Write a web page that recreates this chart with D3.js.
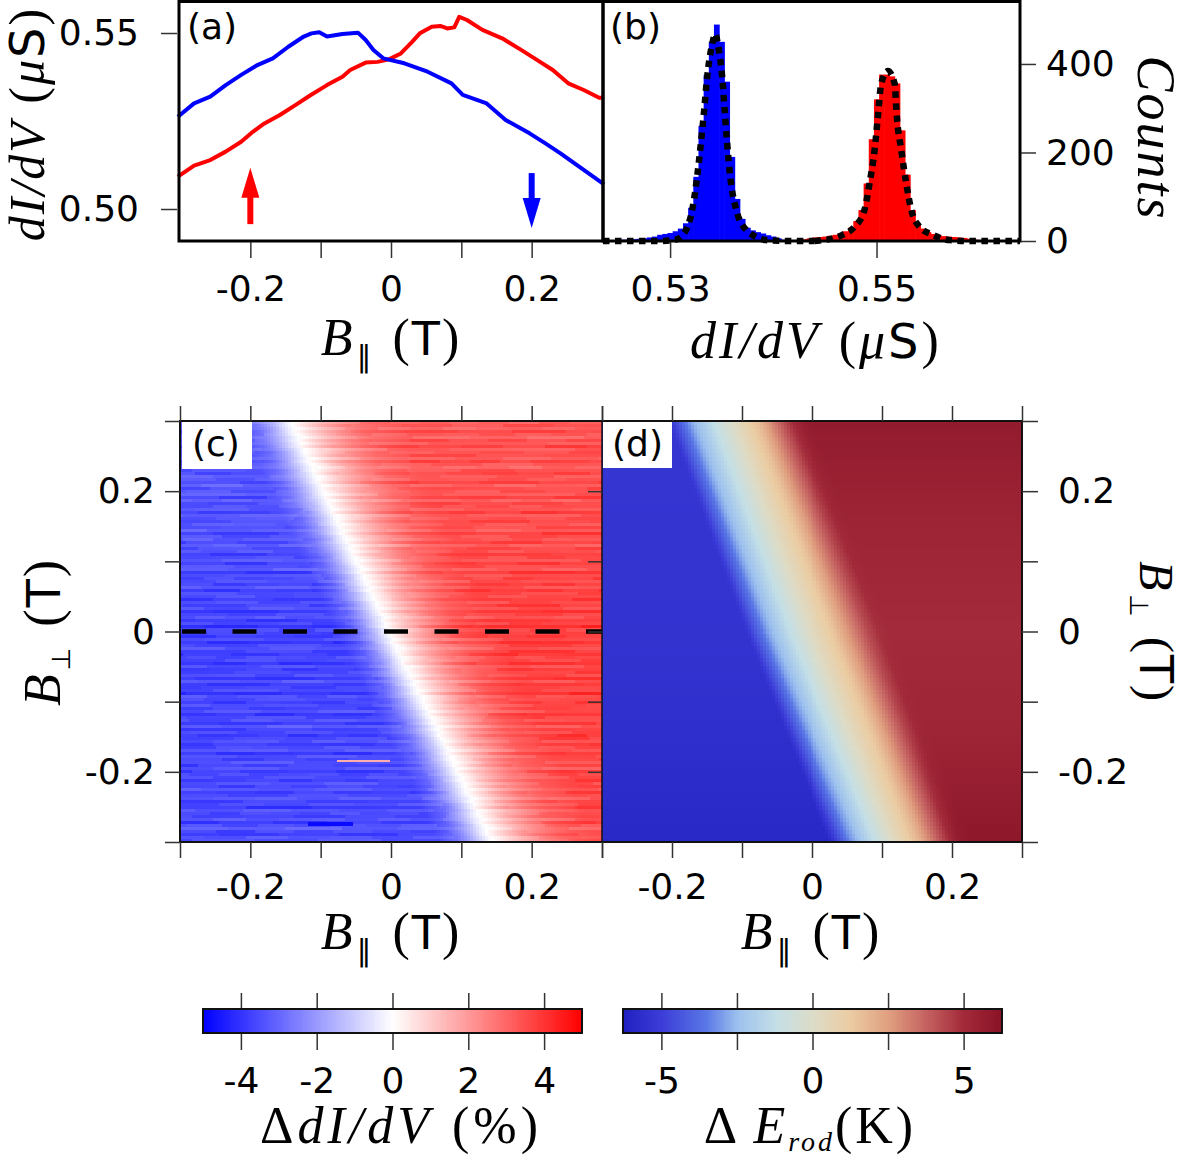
<!DOCTYPE html>
<html><head><meta charset="utf-8">
<script src="https://cdn.jsdelivr.net/npm/d3@7"></script>
<style>body{margin:0;background:#fff}svg{display:block}</style>
</head><body>
<svg id="fig" width="1186" height="1156"></svg>
<script>
// ---------------- DATA ----------------
// panel (a): dI/dV vs B_parallel, two sweep directions
const aRedB  = [-0.303,-0.280,-0.257,-0.235,-0.213,-0.196,-0.180,-0.158,-0.136,-0.114,-0.091,-0.069,-0.058,-0.036,-0.019,-0.003,0.014,0.030,0.041,0.058,0.070,0.080,0.090,0.097,0.108,0.130,0.158,0.185,0.208,0.230,0.252,0.274,0.296,0.303];
const aRedG  = [0.5092,0.5123,0.5139,0.5163,0.5191,0.5220,0.5243,0.5267,0.5295,0.5324,0.5352,0.5376,0.5395,0.5416,0.5418,0.5425,0.5442,0.5475,0.5499,0.5518,0.5520,0.5513,0.5516,0.5546,0.5537,0.5509,0.5485,0.5452,0.5423,0.5395,0.5357,0.5338,0.5316,0.5316];
const aBlueB = [-0.303,-0.280,-0.257,-0.235,-0.213,-0.190,-0.168,-0.146,-0.124,-0.113,-0.102,-0.091,-0.069,-0.047,-0.036,-0.025,-0.011,0.019,0.052,0.086,0.102,0.136,0.163,0.197,0.219,0.241,0.274,0.303];
const aBlueG = [0.5262,0.5300,0.5319,0.5352,0.5381,0.5409,0.5428,0.5461,0.5490,0.5499,0.5502,0.5490,0.5497,0.5501,0.5480,0.5452,0.5428,0.5414,0.5390,0.5357,0.5324,0.5300,0.5253,0.5215,0.5187,0.5158,0.5111,0.5070];
const aXTicks = [-0.2,-0.1,0,0.1,0.2], aXLabels = ['-0.2','','0','','0.2'];
const aYTicks = [0.50,0.55], aYLabels = ['0.50','0.55'];
const arrowB = [-0.2, 0.2], arrowTail = [0.4957, 0.5102], arrowTip = [0.5117, 0.4946], arrowColor = ['#ff0000','#0000ff'];

// panel (b): histograms of dI/dV
const binWidth = 0.0005;
const blueHistX = [0.5240,0.5245,0.5250,0.5255,0.5260,0.5265,0.5270,0.5275,0.5280,0.5285,0.5290,0.5295,0.5300,0.5305,0.5310,0.5315,0.5320,0.5325,0.5330,0.5335,0.5340,0.5345,0.5350,0.5355,0.5360,0.5365,0.5370,0.5375,0.5380,0.5385,0.5390,0.5395,0.5400,0.5405,0.5410,0.5415];
const blueHistN = [1,2,2,3,3,4,5,6,8,10,14,16,18,22,28,40,75,145,260,375,450,489,450,360,190,95,50,30,24,20,17,13,10,6,3,2];
const redHistX  = [0.5420,0.5425,0.5430,0.5435,0.5440,0.5445,0.5450,0.5455,0.5460,0.5465,0.5470,0.5475,0.5480,0.5485,0.5490,0.5495,0.5500,0.5505,0.5510,0.5515,0.5520,0.5525,0.5530,0.5535,0.5540,0.5545,0.5550,0.5555,0.5560,0.5565,0.5570,0.5575,0.5580,0.5585,0.5590,0.5595,0.5600];
const redHistN  = [2,3,4,6,8,9,10,12,14,17,22,30,45,70,130,230,320,376,376,372,356,250,150,70,40,28,20,16,13,11,10,9,8,7,5,3,2];
const blueFitX = [0.5235,0.5290,0.53049,0.53117,0.53165,0.53214,0.53262,0.53298,0.53330,0.53359,0.53408,0.53437,0.53466,0.53505,0.53529,0.53553,0.53583,0.53641,0.53689,0.53738,0.53835,0.5393,0.5420,0.5440];
const blueFitN = [0,0,3,12,30,70,145,220,295,370,445,468,440,370,295,220,145,70,40,25,9,2,0,0];
const redFitX  = [0.5440,0.54447,0.54670,0.54786,0.54883,0.54932,0.54981,0.55013,0.55046,0.55110,0.55175,0.55197,0.55240,0.55288,0.55337,0.55417,0.55544,0.55709,0.5590,0.5639];
const redFitN  = [0,1,14,32,70,130,205,280,356,384,356,280,205,130,70,32,14,2,0,0];
const bXTicks = [0.53,0.55], bXLabels = ['0.53','0.55'];
const bYTicks = [0,200,400];

// panel (c): measured map of ΔdI/dV (%)
const cCenterBperp = [0.3, 0.15, 0, -0.15, -0.3];
const cCenterBpar  = [-0.143, -0.073, -0.003, 0.072, 0.144];
const cLevelBlue   = [3.3, 3.5, 3.8, 3.7, 3.6];
const cLevelRed    = [3.4, 3.6, 3.9, 3.8, 3.6];
const cProfileOffset = [-0.6,-0.075,-0.05,-0.035,-0.02,-0.009,0,0.01,0.025,0.045,0.07,0.1,0.15,0.6];
const cProfileNorm   = [-1,-0.97,-0.8,-0.58,-0.32,-0.12,0,0.1,0.27,0.47,0.67,0.84,0.96,1];
const cRowNoise = [0.2,-0.1,0.35,-0.3,0.05,0.4,-0.2,0.1,-0.45,0.25,0.0,-0.15,0.3,-0.35,0.15,0.45,-0.05,-0.25,0.2,0.1,-0.4,0.35,-0.1,0.05,0.25,-0.3,0.4,-0.2,0.0,0.15,-0.45,0.3,0.1,-0.15,0.2,-0.05,0.35,-0.35,0.05,0.25,-0.2,0.45,-0.1,0.15,-0.3,0.0,0.3,-0.25,0.1,0.4,-0.4,0.2,-0.05,0.25,-0.15,0.35,-0.3,0.05,0.15,-0.2];
const cSegNoise = [0.15,-0.2,0.3,-0.1,0.0,0.25,-0.3,0.1,-0.15,0.2,-0.05,0.35,-0.25,0.05,0.15,-0.35,0.25,-0.1,0.3,0.0,-0.2,0.1,-0.3,0.2,0.05,-0.15,0.35,-0.05,0.1,-0.25,0.2,-0.1,0.3,-0.2,0.0,0.15,-0.3];
const cStreakBperp = [-0.185, -0.2735], cStreakFrom = [-0.077, -0.118], cStreakTo = [-0.001, -0.054], cStreakValue = [1.6, -4.8];

// panel (d): model map of ΔE_rod (K)
const dCenterBperp = [0.3, 0, -0.3];
const dCenterBpar  = [-0.115, -0.006, 0.113];
const dLevelBperp  = [0.3, 0.15, 0, -0.15, -0.3];
const dLevelBlue   = [5.3, 5.35, 5.4, 5.6, 5.9];
const dLevelRed    = [5.8, 5.3, 5.0, 5.3, 6.0];
const dProfileOffset = [-0.6,-0.088,-0.075,-0.057,-0.028,0,0.037,0.066,0.085,0.1,0.115,0.6];
const dProfileNorm   = [-1,-1,-0.8,-0.53,-0.25,0,0.29,0.63,0.85,0.97,1,1];

const mapTicks = [-0.3,-0.2,-0.1,0,0.1,0.2,0.3];
const mapTickLabels = {'-0.2':'-0.2','0':'0','0.2':'0.2'};

// colour bars
const cb1Ticks = [-4,-2,0,2,4], cb1Labels = ['-4','-2','0','2','4'];
const cb2Ticks = [-5,-2.5,0,2.5,5], cb2Labels = ['-5','','0','','5'];
const cmDValues = [-6.27,-5,-3.5,-2.5,-1.2,0,1.2,2.5,3.8,5,6.27];
const cmDColors = ['#2020c0','#3c3cd8','#5a78e6','#9cc0ee','#c4dfe6','#dcdcc8','#ebcda4','#e0a080','#c46060','#a22a3a','#891226'];

// ---------------- DRAW ----------------
const SANS = "DejaVu Sans, sans-serif";
const SERIF = "Liberation Serif, DejaVu Serif, serif";
const svg = d3.select('#fig');
const TICK = '#333';

function styleAxis(g, fs){
  g.select('.domain').remove();
  g.selectAll('.tick line').attr('stroke', TICK).attr('stroke-width', 1.5);
  g.selectAll('.tick text').attr('font-family', SANS).attr('font-size', fs||36).attr('fill', '#000');
}

function mathText(x, y, rot, anchor, segs, base, ls){
  const t = svg.append('text').attr('transform', `translate(${x},${y}) rotate(${rot})`)
    .attr('text-anchor', anchor).attr('font-size', base||52).attr('fill','#000')
    .attr('letter-spacing', ls==null ? 2 : ls);
  let shift = 0;
  segs.forEach(s => {
    const ts = t.append('tspan').text(s.t)
      .attr('font-family', s.f === 'sans' ? SANS : SERIF)
      .attr('font-style', s.i ? 'italic' : 'normal');
    if (s.size) ts.attr('font-size', s.size);
    const target = s.sub || 0;
    if (target !== shift) { ts.attr('dy', target - shift); shift = target; }
    if (s.dx) ts.attr('dx', s.dx);
  });
  return t;
}

// ---- panel (a)
const xA = d3.scaleLinear([-0.3,0.3],[180,602]);
const yA = d3.scaleLinear([0.49091,0.55881],[241,2]);
const line = d3.line().x(d=>xA(d[0])).y(d=>yA(d[1]));
svg.append('path').attr('d', line(d3.zip(aRedB, aRedG))).attr('fill','none').attr('stroke','#ff0000').attr('stroke-width',4).attr('stroke-linejoin','round');
svg.append('path').attr('d', line(d3.zip(aBlueB, aBlueG))).attr('fill','none').attr('stroke','#0000ff').attr('stroke-width',4).attr('stroke-linejoin','round');
arrowB.forEach((b,i) => {
  const x = xA(b), y0 = yA(arrowTail[i]), y1 = yA(arrowTip[i]);
  const dir = y1 < y0 ? -1 : 1, head = 30;
  svg.append('line').attr('x1',x).attr('x2',x).attr('y1',y0).attr('y2',y1 - dir*head+dir*2).attr('stroke',arrowColor[i]).attr('stroke-width',6);
  svg.append('path').attr('d',`M${x-9},${y1-dir*head} L${x+9},${y1-dir*head} L${x},${y1} Z`).attr('fill',arrowColor[i]);
});
svg.append('rect').attr('x',179).attr('y',1.5).attr('width',424).attr('height',239.5).attr('fill','none').attr('stroke','#000').attr('stroke-width',3);
const gAx = svg.append('g').attr('transform','translate(0,242)')
  .call(d3.axisBottom(xA).tickValues(aXTicks).tickSize(16).tickPadding(17).tickFormat((d,i)=>aXLabels[i]));
styleAxis(gAx);
const gAy = svg.append('g').attr('transform','translate(177,0)')
  .call(d3.axisLeft(yA).tickValues(aYTicks).tickSize(16).tickPadding(22).tickFormat((d,i)=>aYLabels[i]));
styleAxis(gAy);
svg.append('text').attr('x',187).attr('y',39).attr('font-family',SANS).attr('font-size',36).text('(a)');

// ---- panel (b)
const xB = d3.scaleLinear([0.5235,0.5639],[603,1020]);
const yB = d3.scaleLinear([0,540],[241,2]);
function hist(X, N, color){
  svg.append('g').selectAll('rect').data(d3.zip(X,N)).join('rect')
    .attr('x', d=>xB(d[0]-binWidth/2)).attr('width', d=>xB(d[0]+binWidth/2)-xB(d[0]-binWidth/2)+0.6)
    .attr('y', d=>yB(d[1])).attr('height', d=>yB(0)-yB(d[1])).attr('fill', color);
}
hist(blueHistX, blueHistN, '#0000ff');
hist(redHistX, redHistN, '#ff0000');
const fitLine = d3.line().x(d=>xB(d[0])).y(d=>yB(d[1])).curve(d3.curveMonotoneX);
[[blueFitX,blueFitN],[redFitX,redFitN]].forEach(([X,N]) => {
  svg.append('path').attr('d', fitLine(d3.zip(X,N))).attr('fill','none').attr('stroke','#000')
    .attr('stroke-width',6.5).attr('stroke-dasharray','6.5 5.5');
});
svg.append('rect').attr('x',603).attr('y',1.5).attr('width',417).attr('height',239.5).attr('fill','none').attr('stroke','#000').attr('stroke-width',3);
const gBx = svg.append('g').attr('transform','translate(0,242)')
  .call(d3.axisBottom(xB).tickValues(bXTicks).tickSize(16).tickPadding(17).tickFormat((d,i)=>bXLabels[i]));
styleAxis(gBx);
const gBy = svg.append('g').attr('transform','translate(1021,0)')
  .call(d3.axisRight(yB).tickValues(bYTicks).tickSize(15).tickPadding(10).tickFormat(d=>String(d)));
styleAxis(gBy);
svg.append('text').attr('x',610).attr('y',39).attr('font-family',SANS).attr('font-size',36).text('(b)');

// ---- panel (c)
const xC = d3.scaleLinear([-0.3,0.3],[180,602]);
const yM = d3.scaleLinear([-0.3,0.3],[842,421]);
const bwr = d3.scaleLinear().domain([-5,0,5]).range(['#0000ff','#ffffff','#ff0000']).clamp(true);
const cCenter = d3.scaleLinear(cCenterBperp, cCenterBpar);
const cLB = d3.scaleLinear(cCenterBperp, cLevelBlue), cLR = d3.scaleLinear(cCenterBperp, cLevelRed);
const cProf = d3.scaleLinear(cProfileOffset, cProfileNorm).clamp(true);
const nRowC = 140, nColC = 141, cellsC = [];
for (let i=0;i<nRowC;i++){
  const p0 = 0.3 - i*0.6/nRowC, p1 = 0.3 - (i+1)*0.6/nRowC, p = (p0+p1)/2;
  const rn = cRowNoise[i % cRowNoise.length];
  const segLen = 10 + (i*7) % 13, segOff = (i*11) % segLen;
  for (let j=0;j<nColC;j++){
    const b0 = -0.3 + j*0.6/nColC, b1 = -0.3 + (j+1)*0.6/nColC, b = (b0+b1)/2;
    const sn = cSegNoise[(i*5 + Math.floor((j+segOff)/segLen)) % cSegNoise.length];
    const n = cProf(b - cCenter(p) - 0.008*rn);
    const lvl = n < 0 ? cLB(p) : cLR(p);
    const v = n*lvl + (0.25 + 0.75*Math.abs(n)) * (0.85*rn + 0.7*sn) * (n<0 ? 1 : -1);
    cellsC.push({b0,b1,p0,p1,v});
  }
}
svg.append('clipPath').attr('id','clipC').append('rect').attr('x',180).attr('y',421).attr('width',422).attr('height',421);
const gC = svg.append('g').attr('clip-path','url(#clipC)').attr('shape-rendering','crispEdges');
gC.selectAll('rect').data(cellsC).join('rect')
  .attr('x', d=>xC(d.b0)).attr('y', d=>yM(d.p0))
  .attr('width', d=>xC(d.b1)-xC(d.b0)+0.7).attr('height', d=>yM(d.p1)-yM(d.p0)+0.7)
  .attr('fill', d=>bwr(d.v));
gC.selectAll('.streak').data(d3.range(cStreakBperp.length)).join('rect')
  .attr('x', i=>xC(cStreakFrom[i])).attr('width', i=>xC(cStreakTo[i])-xC(cStreakFrom[i]))
  .attr('y', i=>yM(cStreakBperp[i])-1.2).attr('height', i=> i===0 ? 2 : 4)
  .attr('fill', i=>bwr(cStreakValue[i]));
svg.append('line').attr('x1',xC(-0.3)).attr('x2',xC(0.3)).attr('y1',yM(0)).attr('y2',yM(0))
  .attr('stroke','#000').attr('stroke-width',4.5).attr('stroke-dasharray','24 26.5').attr('stroke-dashoffset',-2);

// ---- panel (d)
const xD = d3.scaleLinear([-0.3,0.3],[602,1022]);
const cmD = d3.scaleLinear().domain(cmDValues).range(cmDColors).clamp(true);
const dCenter = d3.scaleLinear(dCenterBperp, dCenterBpar);
const dLB = d3.scaleLinear(dLevelBperp, dLevelBlue), dLR = d3.scaleLinear(dLevelBperp, dLevelRed);
const dProf = d3.scaleLinear(dProfileOffset, dProfileNorm).clamp(true);
const nRowD = 105, nColD = 141, cellsD = [];
for (let i=0;i<nRowD;i++){
  const p0 = 0.3 - i*0.6/nRowD, p1 = 0.3 - (i+1)*0.6/nRowD, p = (p0+p1)/2;
  for (let j=0;j<nColD;j++){
    const b0 = -0.3 + j*0.6/nColD, b1 = -0.3 + (j+1)*0.6/nColD, b = (b0+b1)/2;
    const n = dProf(b - dCenter(p));
    const v = n < 0 ? n*dLB(p) : n*dLR(p);
    cellsD.push({b0,b1,p0,p1,v});
  }
}
svg.append('clipPath').attr('id','clipD').append('rect').attr('x',602).attr('y',421).attr('width',420).attr('height',421);
const gD = svg.append('g').attr('clip-path','url(#clipD)').attr('shape-rendering','crispEdges');
gD.selectAll('rect').data(cellsD).join('rect')
  .attr('x', d=>xD(d.b0)).attr('y', d=>yM(d.p0))
  .attr('width', d=>xD(d.b1)-xD(d.b0)+0.7).attr('height', d=>yM(d.p1)-yM(d.p0)+0.7)
  .attr('fill', d=>cmD(d.v));

// frames, ticks for (c),(d)
svg.append('rect').attr('x',180).attr('y',421).attr('width',842).attr('height',421).attr('fill','none').attr('stroke','#111').attr('stroke-width',2);
svg.append('line').attr('x1',602).attr('x2',602).attr('y1',421).attr('y2',842).attr('stroke','#111').attr('stroke-width',1.5);
const fmtMap = d => mapTickLabels[String(Math.round(d*10)/10)] || '';
[[xC,'c'],[xD,'d']].forEach(([xs,k]) => {
  const gb = svg.append('g').attr('transform','translate(0,842)')
    .call(d3.axisBottom(xs).tickValues(mapTicks).tickSize(16).tickPadding(15).tickFormat(fmtMap));
  styleAxis(gb);
  const gt = svg.append('g').attr('transform','translate(0,421)')
    .call(d3.axisTop(xs).tickValues(mapTicks).tickSize(15).tickFormat(''));
  styleAxis(gt);
});
const gCl = svg.append('g').attr('transform','translate(180,0)')
  .call(d3.axisLeft(yM).tickValues(mapTicks).tickSize(15).tickPadding(10).tickFormat(fmtMap));
styleAxis(gCl);
const gDl = svg.append('g').attr('transform','translate(602,0)')
  .call(d3.axisLeft(yM).tickValues(mapTicks.slice(1,-1)).tickSize(14).tickFormat(''));
styleAxis(gDl);
const gDr = svg.append('g').attr('transform','translate(1022,0)')
  .call(d3.axisRight(yM).tickValues(mapTicks).tickSize(16).tickPadding(20).tickFormat(fmtMap));
styleAxis(gDr);

// panel labels with white boxes
svg.append('rect').attr('x',182).attr('y',422).attr('width',70).attr('height',47).attr('fill','#fff');
svg.append('text').attr('x',192).attr('y',456).attr('font-family',SANS).attr('font-size',36).text('(c)');
svg.append('rect').attr('x',603).attr('y',422).attr('width',69).attr('height',46).attr('fill','#fff');
svg.append('text').attr('x',612).attr('y',456).attr('font-family',SANS).attr('font-size',36).text('(d)');

// ---- colour bars
function colorbar(scale, cmap, x0, x1, ticks, labels){
  const vals = d3.range(0, 200).map(k => scale.invert(x0 + (k+0.5)*(x1-x0)/200));
  const w = (x1-x0)/200;
  svg.append('g').attr('shape-rendering','crispEdges').selectAll('rect').data(vals).join('rect')
    .attr('x', d=>scale(d)-w/2).attr('width', w+0.6).attr('y',1009).attr('height',24).attr('fill', d=>cmap(d));
  svg.append('rect').attr('x',x0).attr('y',1009).attr('width',x1-x0).attr('height',24).attr('fill','none').attr('stroke','#111').attr('stroke-width',2);
  const gb = svg.append('g').attr('transform','translate(0,1034)')
    .call(d3.axisBottom(scale).tickValues(ticks).tickSize(16).tickPadding(17).tickFormat((d,i)=>labels[i]));
  styleAxis(gb);
  const gt = svg.append('g').attr('transform','translate(0,1008)')
    .call(d3.axisTop(scale).tickValues(ticks).tickSize(15).tickFormat(''));
  styleAxis(gt);
}
const cb1 = d3.scaleLinear([-5,5],[203,582]);
const cb2 = d3.scaleLinear([-6.27,6.27],[623,1002]);
colorbar(cb1, bwr, 203, 582, cb1Ticks, cb1Labels);
colorbar(cb2, cmD, 623, 1002, cb2Ticks, cb2Labels);

// ---- axis titles
const Bpar = [{t:'B',i:true},{t:'∥',f:'sans',size:30,sub:12,dx:2},{t:' (',sub:0,dx:4},{t:'T',f:'sans',size:46},{t:')'}];
const Bperp = [{t:'B',i:true},{t:'⊥',f:'sans',size:26,sub:10,dx:2},{t:' (',sub:0,dx:4},{t:'T',f:'sans',size:46},{t:')'}];
const dIdV = [{t:'dI',i:true},{t:'/',i:true},{t:'dV',i:true},{t:' (',dx:2},{t:'μ',i:true},{t:'S',f:'sans',size:48},{t:')'}];
mathText(391, 355, 0, 'middle', Bpar);
mathText(391, 949, 0, 'middle', Bpar);
mathText(811, 949, 0, 'middle', Bpar);
mathText(816, 358, 0, 'middle', dIdV, 52, 3);
mathText(44, 124, -90, 'middle', dIdV, 50, 2);
mathText(1138, 138, 90, 'middle', [{t:'Counts',i:true}], 54, 2);
mathText(60, 632, -90, 'middle', Bperp);
mathText(1140, 632, 90, 'middle', Bperp, 48);
mathText(401, 1143, 0, 'middle', [{t:'Δ'},{t:'dI',i:true},{t:'/',i:true},{t:'dV',i:true},{t:' (%)',dx:2}], 52, 4);
mathText(810, 1143, 0, 'middle', [{t:'Δ '},{t:'E',i:true},{t:'rod',i:true,size:28,sub:8},{t:'(K)',sub:0}], 52, 3);
</script>
</body></html>
